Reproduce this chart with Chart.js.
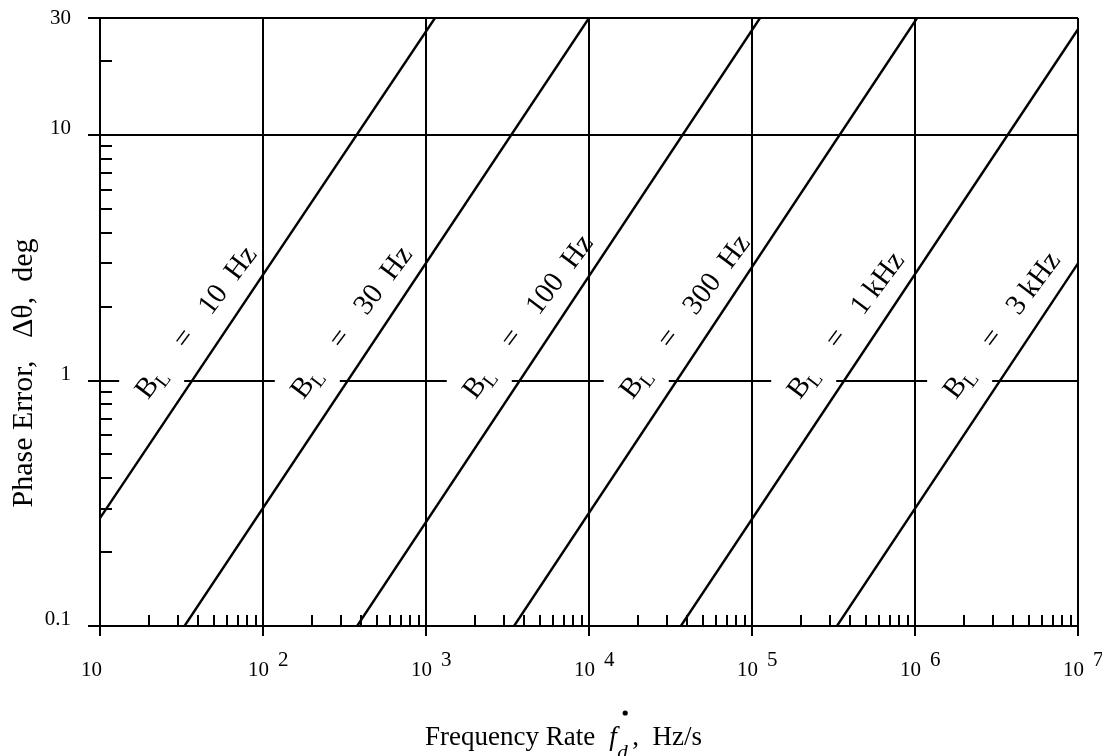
<!DOCTYPE html>
<html><head><meta charset="utf-8">
<script src="https://cdn.jsdelivr.net/npm/chart.js@4.4.1/dist/chart.umd.min.js"></script>
<style>html,body{margin:0;padding:0;background:#fff;}#wrap{width:1102px;height:756px;}</style>
</head><body><div id="wrap"><canvas id="c" width="1102" height="756"></canvas></div>
<script>
// ---- data ----
const loopBandwidths = ['10  Hz', '30  Hz', '100  Hz', '300  Hz', '1 kHz', '3 kHz'];
const lineStartRate  = [10, 33, 378, 3470, 36600, 332000];
const lineStartError = [0.275, 0.1, 0.1, 0.1, 0.1, 0.1];
const lineEndRate    = [1135, 10000, 112000, 1030000, 10000000, 10000000];
const lineEndError   = [30, 30, 30, 30, 27, 3];
const xTickValues    = [10, 100, 1000, 10000, 100000, 1000000, 10000000];
const xTickExponents = ['', '2', '3', '4', '5', '6', '7'];
const yTickValues    = [0.1, 1, 10, 30];
const yTickLabels    = ['0.1', '1', '10', '30'];
const yMinorTicks    = [0.2, 0.3, 0.4, 0.5, 0.6, 0.7, 0.8, 0.9, 2, 3, 4, 5, 6, 7, 8, 9, 20];
const xMinorMultipliers = [2, 3, 4, 5, 6, 7, 8, 9];
const xTitleMain = 'Frequency Rate';
const xTitleUnit = ',  Hz/s';
const yTitle = 'Phase Error,   \u0394\u03B8,  deg';

const SERIF = '"Liberation Serif", "Times New Roman", serif';
const LABEL_ANGLE = 53 * Math.PI / 180;

function lineGeom(chart, i) {
  const x = chart.scales.x, y = chart.scales.y;
  const x0 = x.getPixelForValue(lineStartRate[i]), y0 = y.getPixelForValue(lineStartError[i]);
  const x1 = x.getPixelForValue(lineEndRate[i]), y1 = y.getPixelForValue(lineEndError[i]);
  const yt = y.getPixelForValue(1);
  const cx = x0 + (yt - y0) * (x1 - x0) / (y1 - y0);
  return {cx, yt};
}

const customPlugin = {
  id: 'custom',
  beforeDatasetsDraw(chart) {
    const {ctx, chartArea: a} = chart;
    const x = chart.scales.x, y = chart.scales.y;
    ctx.save();
    ctx.strokeStyle = '#000';
    ctx.lineWidth = 2;
    ctx.beginPath();
    for (let k = 0; k < xTickValues.length - 1; k++) {
      for (const m of xMinorMultipliers) {
        const px = Math.round(x.getPixelForValue(xTickValues[k] * m));
        ctx.moveTo(px, a.bottom);
        ctx.lineTo(px, a.bottom - 11);
      }
    }
    for (const v of yMinorTicks) {
      const py = Math.round(y.getPixelForValue(v));
      ctx.moveTo(a.left, py);
      ctx.lineTo(a.left + 12, py);
    }
    ctx.stroke();
    // gaps in the unit line behind the labels
    ctx.fillStyle = '#fff';
    for (let i = 0; i < loopBandwidths.length; i++) {
      const g = lineGeom(chart, i);
      ctx.fillRect(g.cx - 73, g.yt - 3, 65, 6);
    }
    ctx.restore();
  },
  afterDatasetsDraw(chart) {
    const {ctx} = chart;
    ctx.save();
    ctx.fillStyle = '#000';
    for (let i = 0; i < loopBandwidths.length; i++) {
      const g = lineGeom(chart, i);
      ctx.save();
      ctx.translate(g.cx - 46, g.yt + 7);
      ctx.rotate(-LABEL_ANGLE);
      ctx.textBaseline = 'alphabetic';
      ctx.textAlign = 'left';
      ctx.font = '29px ' + SERIF;
      ctx.fillText('B', -9, 9);
      ctx.font = '20px ' + SERIF;
      ctx.fillText('L', 10, 15);
      ctx.font = '29px ' + SERIF;
      ctx.textAlign = 'center';
      ctx.fillText('=', 62, 9);
      ctx.textAlign = 'left';
      ctx.fillText(loopBandwidths[i], 96, 9);
      ctx.restore();
    }
    ctx.restore();
  },
  afterDraw(chart) {
    const {ctx, chartArea: a} = chart;
    const x = chart.scales.x, y = chart.scales.y;
    ctx.save();
    ctx.fillStyle = '#000';
    ctx.textBaseline = 'alphabetic';
    ctx.font = '21px ' + SERIF;
    // x tick labels
    xTickValues.forEach((v, k) => {
      const px = x.getPixelForValue(v);
      if (xTickExponents[k]) {
        ctx.textAlign = 'right';
        ctx.fillText('10', px + 6, a.bottom + 50);
        ctx.textAlign = 'left';
        ctx.fillText(xTickExponents[k], px + 15, a.bottom + 40);
      } else {
        ctx.textAlign = 'right';
        ctx.fillText('10', px + 2, a.bottom + 50);
      }
    });
    // y tick labels
    ctx.textAlign = 'right';
    yTickValues.forEach((v, k) => {
      const py = y.getPixelForValue(v);
      if (v === y.max) {
        ctx.textBaseline = 'middle';
        ctx.fillText(yTickLabels[k], a.left - 29, py);
      } else {
        ctx.textBaseline = 'alphabetic';
        ctx.fillText(yTickLabels[k], a.left - 29, py - 1);
      }
    });
    // y title
    ctx.save();
    ctx.translate(32, a.top + 355);
    ctx.rotate(-Math.PI / 2);
    ctx.textAlign = 'center';
    ctx.textBaseline = 'alphabetic';
    ctx.font = '30px ' + SERIF;
    ctx.fillText(yTitle, 0, 0);
    ctx.restore();
    // x title
    const bx = 425, by = a.bottom + 119;
    ctx.textAlign = 'left';
    ctx.textBaseline = 'alphabetic';
    ctx.font = '27px ' + SERIF;
    ctx.fillText(xTitleMain, bx, by);
    const fx = bx + ctx.measureText(xTitleMain).width + 14;
    ctx.font = 'italic 27px ' + SERIF;
    ctx.fillText('f', fx, by);
    ctx.beginPath();
    ctx.arc(fx + 16, by - 32, 2.6, 0, Math.PI * 2);
    ctx.fill();
    ctx.font = 'italic 21px ' + SERIF;
    ctx.fillText('d', fx + 8, by + 14);
    ctx.font = '27px ' + SERIF;
    ctx.fillText(xTitleUnit, fx + 23, by);
    ctx.restore();
  }
};

const datasets = loopBandwidths.map((b, i) => ({
  label: 'B_L = ' + b,
  data: [{x: lineStartRate[i], y: lineStartError[i]}, {x: lineEndRate[i], y: lineEndError[i]}],
  borderColor: '#000',
  borderWidth: 2.4,
  pointRadius: 0,
  showLine: true,
  fill: false,
  tension: 0
}));

new Chart(document.getElementById('c'), {
  type: 'scatter',
  data: {datasets},
  options: {
    responsive: false,
    animation: false,
    layout: {padding: {left: 88, top: 18, right: 24, bottom: 120}},
    plugins: {legend: {display: false}, tooltip: {enabled: false}},
    scales: {
      x: {
        type: 'logarithmic', position: 'bottom', min: 10, max: 10000000,
        afterBuildTicks: s => { s.ticks = xTickValues.map(v => ({value: v})); },
        ticks: {display: false},
        grid: {color: '#000', lineWidth: 2, tickLength: 10, drawTicks: true},
        border: {display: true, color: '#000', width: 2}
      },
      y: {
        type: 'logarithmic', position: 'left', min: 0.1, max: 30,
        afterBuildTicks: s => { s.ticks = yTickValues.map(v => ({value: v})); },
        ticks: {display: false},
        grid: {color: '#000', lineWidth: 2, tickLength: 12, drawTicks: true},
        border: {display: true, color: '#000', width: 2}
      }
    }
  },
  plugins: [customPlugin]
});
</script>
</body></html>
